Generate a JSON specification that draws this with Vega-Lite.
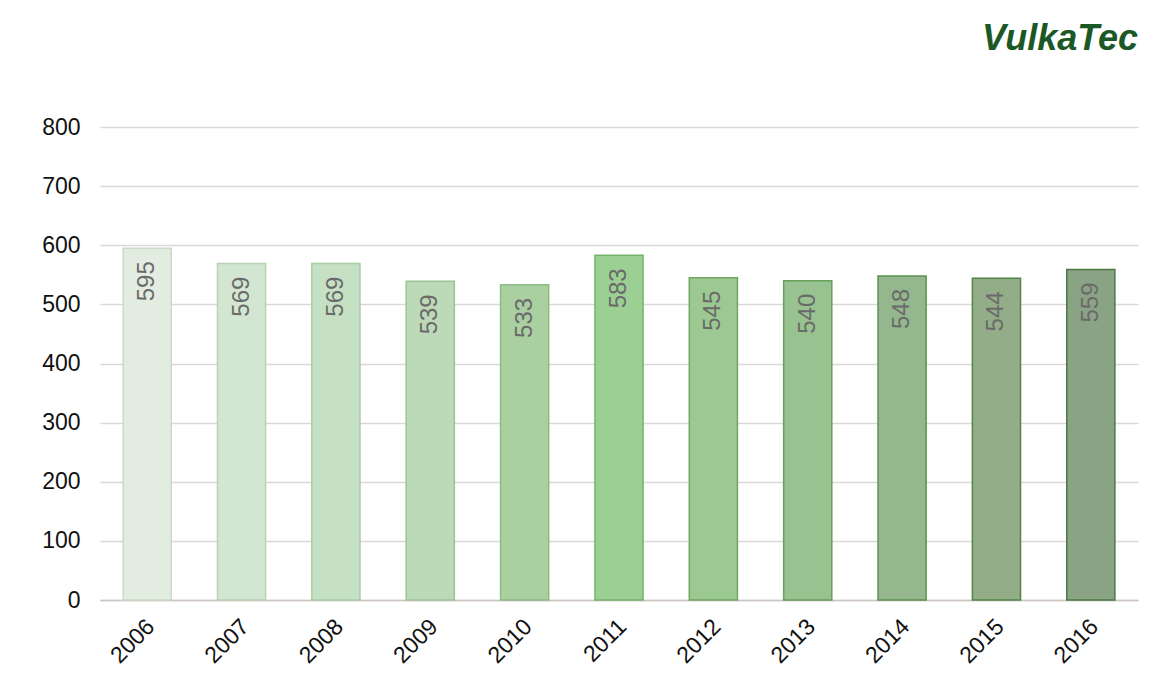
{
  "$schema": "https://vega.github.io/schema/vega-lite/v6.json",
  "width": 1038,
  "height": 473,
  "autosize": {"type": "none"},
  "padding": {"left": 100, "top": 127, "right": 18, "bottom": 79},
  "background": "white",
  "title": {
    "text": "VulkaTec",
    "anchor": "end",
    "font": "Liberation Sans",
    "fontSize": 36,
    "fontWeight": "bold",
    "fontStyle": "italic",
    "color": "#1c5826",
    "offset": 58
  },
  "data": {
    "values": [
      {"year": "2006", "value": 595},
      {"year": "2007", "value": 569},
      {"year": "2008", "value": 569},
      {"year": "2009", "value": 539},
      {"year": "2010", "value": 533},
      {"year": "2011", "value": 583},
      {"year": "2012", "value": 545},
      {"year": "2013", "value": 540},
      {"year": "2014", "value": 548},
      {"year": "2015", "value": 544},
      {"year": "2016", "value": 559}
    ]
  },
  "config": {
    "view": {"stroke": null},
    "font": "Liberation Sans"
  },
  "encoding": {
    "x": {
      "field": "year",
      "type": "ordinal",
      "scale": {"paddingInner": 0.49, "paddingOuter": 0.245},
      "axis": {
        "title": null,
        "labelAngle": -45,
        "labelAlign": "right",
        "labelBaseline": "top",
        "labelFontSize": 23,
        "labelColor": "#111111",
        "labelPadding": 15,
        "labelOffset": -4,
        "ticks": false,
        "domainColor": "#cdc4c4",
        "domainWidth": 1.5
      }
    },
    "y": {
      "field": "value",
      "type": "quantitative",
      "scale": {"domain": [0, 800], "nice": false},
      "axis": {
        "title": null,
        "values": [0, 100, 200, 300, 400, 500, 600, 700, 800],
        "labelFontSize": 23,
        "labelColor": "#111111",
        "labelPadding": 20,
        "ticks": false,
        "domain": false,
        "gridColor": "#ddd6d6",
        "gridWidth": 1.5
      }
    }
  },
  "layer": [
    {
      "mark": {"type": "bar", "strokeWidth": 1.5},
      "encoding": {
        "fill": {
          "field": "year",
          "type": "nominal",
          "legend": null,
          "scale": {
            "range": ["#e2ece0", "#d3e6d2", "#c6e0c4", "#bcd9b8", "#aad0a2", "#9ccf94", "#9cc991", "#98c290", "#95b78d", "#92ad88", "#8aa385"]
          }
        },
        "stroke": {
          "field": "year",
          "type": "nominal",
          "legend": null,
          "scale": {
            "range": ["#c8dcc4", "#b8d2b4", "#a8cba2", "#9ec297", "#8dbb84", "#76b36a", "#6ea762", "#66a05a", "#5b9350", "#508646", "#4a7a40"]
          }
        }
      }
    },
    {
      "mark": {
        "type": "text",
        "angle": -90,
        "align": "right",
        "baseline": "middle",
        "dx": -13,
        "fontSize": 24,
        "color": "#6a6a6a"
      },
      "encoding": {
        "text": {"field": "value", "type": "quantitative"}
      }
    }
  ]
}
